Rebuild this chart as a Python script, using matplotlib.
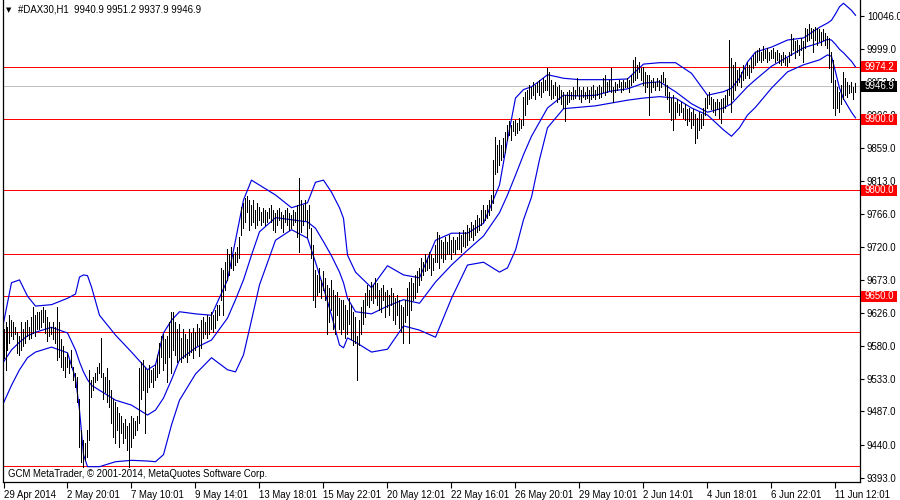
import matplotlib
matplotlib.use("Agg")
import matplotlib.pyplot as plt
from matplotlib.patches import Rectangle

# ---------------- data ----------------
# hourly bars, high / low
highs = [
    9603, 9614, 9607, 9624, 9617, 9613, 9607, 9599, 9593, 9614,
    9603, 9613, 9617, 9607, 9620, 9634, 9624, 9627, 9628, 9631,
    9634, 9631, 9621, 9614, 9607, 9613, 9607, 9634, 9613, 9589,
    9579, 9564, 9570, 9560, 9574, 9550, 9542, 9536, 9504, 9461,
    9447, 9443, 9461, 9546, 9532, 9536, 9542, 9550, 9556, 9591,
    9542, 9536, 9549, 9532, 9518, 9504, 9500, 9494, 9485, 9480,
    9471, 9476, 9466, 9471, 9480, 9478, 9473, 9480, 9549, 9557,
    9560, 9550, 9546, 9553, 9546, 9549, 9553, 9567, 9584, 9593,
    9596, 9589, 9593, 9613, 9627, 9628, 9614, 9603, 9610, 9591,
    9603, 9596, 9589, 9603, 9598, 9605, 9600, 9610, 9605, 9617,
    9620, 9614, 9624, 9620, 9628, 9624, 9631, 9638, 9638, 9690,
    9687, 9699, 9716, 9709, 9719, 9709, 9713, 9719, 9733, 9776,
    9782, 9789, 9791, 9786, 9779, 9786, 9772, 9782, 9776, 9769,
    9775, 9772, 9769, 9775, 9779, 9772, 9768, 9772, 9775, 9769,
    9765, 9772, 9775, 9768, 9765, 9772, 9769, 9779, 9817, 9786,
    9779, 9786, 9772, 9779, 9747, 9723, 9687, 9680, 9690, 9673,
    9685, 9676, 9666, 9662, 9673, 9659, 9652, 9656, 9648, 9645,
    9645, 9638, 9631, 9648, 9638, 9628, 9620, 9593, 9617, 9635,
    9645, 9655, 9666, 9659, 9670, 9666, 9676, 9669, 9659, 9662,
    9666, 9656, 9659, 9652, 9662, 9655, 9648, 9652, 9645, 9638,
    9635, 9645, 9662, 9670, 9676, 9669, 9680, 9685, 9690, 9704,
    9699, 9709, 9704, 9713, 9709, 9704, 9723, 9741, 9737, 9730,
    9726, 9733, 9727, 9737, 9730, 9734, 9730, 9733, 9741, 9736,
    9744, 9740, 9751, 9747, 9755, 9751, 9758, 9765, 9761, 9772,
    9779, 9772, 9779, 9786, 9793, 9843, 9875, 9864, 9871, 9864,
    9874, 9882, 9892, 9897, 9892, 9897, 9899, 9895, 9902, 9899,
    9932, 9939, 9942, 9949, 9945, 9952, 9949, 9953, 9956, 9952,
    9959, 9956, 9973, 9967, 9956, 9949, 9953, 9945, 9949, 9942,
    9939, 9935, 9939, 9942, 9939, 9945, 9942, 9959, 9946, 9942,
    9945, 9939, 9946, 9942, 9945, 9949, 9942, 9946, 9949, 9945,
    9959, 9963, 9953, 9956, 9973, 9945, 9953, 9950, 9956, 9952,
    9956, 9953, 9959, 9956, 9963, 9984, 9988, 9977, 9981, 9973,
    9974, 9967, 9963, 9963, 9956, 9959, 9953, 9959, 9956, 9962,
    9967, 9959, 9949, 9939, 9930, 9935, 9925, 9928, 9921, 9925,
    9916, 9921, 9914, 9916, 9911, 9914, 9907, 9902, 9911, 9907,
    9916, 9930, 9935, 9939, 9932, 9928, 9925, 9928, 9925, 9928,
    9930, 9935, 9942, 10012, 9987, 9977, 9981, 9970, 9973, 9967,
    9977, 9973, 9981, 9977, 9987, 9991, 9995, 9998, 10001, 9995,
    10003, 9998, 10001, 9995, 9998, 10001, 9995, 9998, 9994, 9991,
    9995, 9991, 9987, 9995, 10020, 10015, 10010, 10012, 10005, 10015,
    10010, 10029, 10027, 10034, 10029, 10027, 10031, 10029, 10027, 10024,
    10027, 10022, 10018, 10015, 9995, 9984, 9956, 9945, 9939, 9949,
    9967, 9959, 9953, 9949, 9952, 9945, 9951.2,
]
lows = [
    9563, 9546, 9574, 9584, 9593, 9589, 9596, 9570, 9567, 9574,
    9579, 9584, 9593, 9589, 9591, 9598, 9593, 9603, 9603, 9607,
    9613, 9598, 9586, 9593, 9596, 9589, 9584, 9560, 9564, 9550,
    9546, 9536, 9550, 9542, 9550, 9532, 9522, 9500, 9437, 9415,
    9409, 9419, 9423, 9447, 9508, 9518, 9528, 9532, 9542, 9536,
    9504, 9514, 9500, 9494, 9471, 9451, 9443, 9461, 9437, 9457,
    9443, 9450, 9433, 9409, 9437, 9450, 9454, 9461, 9471, 9504,
    9518, 9457, 9514, 9522, 9528, 9522, 9532, 9536, 9542, 9564,
    9546, 9556, 9528, 9564, 9541, 9574, 9567, 9557, 9560, 9557,
    9563, 9564, 9557, 9567, 9571, 9563, 9574, 9581, 9566, 9577,
    9591, 9596, 9591, 9596, 9603, 9600, 9605, 9617, 9624, 9645,
    9624, 9659, 9673, 9680, 9690, 9687, 9694, 9699, 9704, 9737,
    9747, 9755, 9769, 9744, 9751, 9755, 9747, 9751, 9758, 9751,
    9755, 9751, 9755, 9761, 9755, 9744, 9741, 9751, 9758, 9747,
    9741, 9755, 9751, 9744, 9747, 9751, 9755, 9733, 9712, 9741,
    9751, 9758, 9733, 9747, 9704, 9645, 9634, 9652, 9656, 9648,
    9659, 9645, 9596, 9614, 9631, 9603, 9596, 9624, 9603, 9596,
    9603, 9591, 9596, 9610, 9589, 9581, 9584, 9532, 9581, 9596,
    9610, 9620, 9638, 9634, 9645, 9641, 9648, 9638, 9631, 9628,
    9645, 9620, 9634, 9624, 9638, 9617, 9610, 9624, 9605, 9600,
    9584, 9614, 9624, 9584, 9631, 9645, 9648, 9656, 9666, 9673,
    9680, 9685, 9687, 9690, 9680, 9687, 9699, 9699, 9690, 9704,
    9699, 9702, 9709, 9709, 9702, 9713, 9709, 9716, 9716, 9713,
    9721, 9719, 9723, 9730, 9733, 9730, 9737, 9741, 9744, 9751,
    9755, 9758, 9761, 9765, 9772, 9782, 9822, 9826, 9836, 9843,
    9846, 9854, 9871, 9878, 9871, 9883, 9878, 9881, 9885, 9888,
    9892, 9906, 9921, 9928, 9930, 9935, 9928, 9939, 9935, 9932,
    9939, 9942, 9942, 9935, 9928, 9930, 9935, 9925, 9928, 9921,
    9916, 9897, 9921, 9925, 9928, 9928, 9930, 9935, 9928, 9925,
    9932, 9928, 9930, 9925, 9928, 9932, 9928, 9935, 9930, 9932,
    9939, 9935, 9939, 9942, 9939, 9925, 9939, 9942, 9945, 9939,
    9942, 9945, 9945, 9939, 9949, 9953, 9956, 9959, 9967, 9956,
    9949, 9939, 9945, 9906, 9939, 9945, 9942, 9947, 9942, 9945,
    9953, 9935, 9928, 9911, 9899, 9885, 9902, 9911, 9906, 9911,
    9902, 9899, 9892, 9897, 9888, 9892, 9867, 9874, 9885, 9888,
    9892, 9906, 9916, 9921, 9914, 9911, 9906, 9914, 9902, 9895,
    9911, 9916, 9921, 9935, 9911, 9928, 9942, 9949, 9953, 9945,
    9956, 9959, 9963, 9959, 9967, 9973, 9977, 9981, 9984, 9981,
    9984, 9987, 9981, 9984, 9987, 9987, 9981, 9984, 9980, 9977,
    9981, 9977, 9976, 9981, 9991, 9998, 9987, 9995, 9991, 9998,
    9981, 10001, 10010, 10012, 10015, 9995, 10012, 10005, 10010, 10005,
    10012, 10005, 10001, 9973, 9953, 9916, 9906, 9916, 9911, 9921,
    9928, 9935, 9932, 9937, 9939, 9928, 9937.9,
]

# Bollinger bands, sampled at these bar numbers
band_bar = [0, 4, 8, 12, 16, 24, 32, 36, 38, 40, 42, 44, 48, 56, 64, 72, 76, 80,
            84, 88, 96, 104, 112, 116, 120, 124, 128, 136, 144, 152, 156, 160,
            164, 168, 170, 172, 176, 184, 192, 200, 208, 216, 224, 232, 240, 248,
            252, 256, 260, 264, 268, 272, 280, 288, 296, 304, 312, 320, 328, 336,
            344, 352, 360, 364, 368, 372, 376, 384, 392, 400, 408, 412, 414, 416,
            418, 420, 424, 426]
upper = [9612, 9669, 9673, 9650, 9636, 9638, 9647, 9653, 9677, 9680, 9679, 9663,
         9623, 9595, 9571, 9546, 9553, 9598, 9616, 9628, 9625, 9623, 9673, 9729,
         9786, 9814, 9807, 9793, 9775, 9782, 9811, 9814, 9797, 9775, 9760, 9708,
         9684, 9662, 9693, 9680, 9676, 9729, 9739, 9739, 9753, 9807, 9871, 9930,
         9942, 9946, 9954, 9963, 9958, 9956, 9956, 9956, 9957, 9978, 9980, 9980,
         9965, 9934, 9939, 9944, 9958, 9981, 9995, 10002, 10012, 10015, 10030,
         10036, 10040, 10049, 10059, 10064, 10054, 10047]
middle = [9557, 9574, 9585, 9594, 9599, 9606, 9598, 9574, 9557, 9543, 9532, 9524,
          9517, 9503, 9496, 9482, 9489, 9506, 9532, 9560, 9577, 9588, 9619, 9645,
          9673, 9708, 9741, 9761, 9758, 9755, 9746, 9727, 9707, 9684, 9669, 9647,
          9628, 9625, 9636, 9645, 9640, 9670, 9694, 9715, 9735, 9768, 9793, 9821,
          9850, 9876, 9896, 9916, 9934, 9933, 9934, 9940, 9943, 9951, 9953, 9939,
          9922, 9910, 9916, 9922, 9934, 9946, 9956, 9975, 9988, 10001, 10008,
          10013, 10012, 10006, 9999, 9994, 9982, 9974]
lower = [9499, 9524, 9546, 9563, 9571, 9578, 9570, 9534, 9489, 9426, 9409, 9409,
         9409, 9416, 9418, 9417, 9416, 9426, 9468, 9503, 9540, 9563, 9546, 9543,
         9567, 9616, 9666, 9729, 9744, 9732, 9698, 9662, 9623, 9581, 9577, 9591,
         9585, 9571, 9575, 9608, 9602, 9592, 9647, 9694, 9698, 9684, 9690, 9715,
         9758, 9790, 9843, 9888, 9915, 9917, 9919, 9923, 9927, 9930, 9932, 9930,
         9916, 9906, 9885, 9876, 9888, 9906, 9917, 9944, 9967, 9977, 9984, 9991,
         9989, 9967, 9944, 9929, 9910, 9902]

# horizontal lines
red_levels = [9974.2, 9900.0, 9800.0, 9710.0, 9650.0, 9600.0, 9410.0]
boxed_levels = [9974.2, 9900.0, 9800.0, 9650.0]
last_price = 9946.9

price_ticks = [10046, 9999, 9953, 9906, 9859, 9813, 9766, 9720, 9673, 9626,
               9580, 9533, 9487, 9440, 9393]
date_bars = [0, 32, 64, 96, 128, 160, 192, 224, 256, 288, 320, 352, 384, 416]
date_labels = ["29 Apr 2014", "2 May 20:01", "7 May 10:01", "9 May 14:01",
               "13 May 18:01", "15 May 22:01", "20 May 12:01", "22 May 16:01",
               "26 May 20:01", "29 May 10:01", "2 Jun 14:01", "4 Jun 18:01",
               "6 Jun 22:01", "11 Jun 12:01"]

# ---------------- figure ----------------
FONT = ["Liberation Sans", "DejaVu Sans"]
plt.rcParams["font.family"] = FONT
FS = 6.9
PX = 0.72  # one pixel in points at 100 dpi

fig = plt.figure(figsize=(9, 5), dpi=100)
ax = fig.add_axes([3 / 900, 18 / 500, 857 / 900, 482 / 500])

ax.set_xlim(-0.25, 428.25)
ax.set_ylim(9387.35, 10068.6)

bars = list(range(len(highs)))
ax.vlines(bars, lows, highs, color="black", linewidth=PX, antialiased=False, zorder=3)

ax.plot(band_bar, upper, color="#0000E0", linewidth=0.85, zorder=2)
ax.plot(band_bar, middle, color="#0000E0", linewidth=0.85, zorder=2)
ax.plot(band_bar, lower, color="#0000E0", linewidth=0.85, zorder=2)

for lv in red_levels:
    ax.axhline(lv, color="#FF0000", linewidth=PX, antialiased=False, zorder=1)
ax.axhline(last_price, color="#C0C0C0", linewidth=PX, antialiased=False, zorder=0)

# axes look
for s in ["left", "right", "bottom"]:
    ax.spines[s].set_linewidth(0.9)
ax.spines["top"].set_visible(False)

ax.yaxis.tick_right()
ax.set_yticks(price_ticks)
ax.set_yticklabels(["%.1f" % t for t in price_ticks], fontsize=FS)
ax.tick_params(axis="y", length=3, width=0.8, pad=2)

ax.set_xticks(date_bars)
ax.set_xticklabels(date_labels, fontsize=FS)
ax.tick_params(axis="x", length=4, width=0.8, pad=2)
for lab in ax.get_xticklabels():
    lab.set_horizontalalignment("left")

# price boxes on the right scale
ytr = ax.get_yaxis_transform()
box_h = 11 * 1.4134
for lv in boxed_levels:
    ax.add_patch(Rectangle((1.0008, lv - box_h / 2), 0.0425, box_h, transform=ytr,
                           facecolor="#FF0000", edgecolor="none", clip_on=False, zorder=5))
    ax.text(1.0225, lv, "%.1f" % lv, transform=ytr, color="white", fontsize=FS,
            ha="center", va="center", clip_on=False, zorder=6)
ax.add_patch(Rectangle((1.0008, last_price - box_h / 2), 0.0425, box_h, transform=ytr,
                       facecolor="black", edgecolor="none", clip_on=False, zorder=5))
ax.text(1.0225, last_price, "%.1f" % last_price, transform=ytr, color="white",
        fontsize=FS, ha="center", va="center", clip_on=False, zorder=6)

# header and copyright
fig.text(6 / 900, 1 - 10 / 500, "\u25bc", fontsize=5, va="center", ha="left",
         family=["DejaVu Sans"])
fig.text(18 / 900, 1 - 10 / 500, "#DAX30,H1  9940.9 9951.2 9937.9 9946.9",
         fontsize=FS, va="center", ha="left")
fig.text(8 / 900, 1 - 474 / 500, "GCM MetaTrader, \u00a9 2001-2014, MetaQuotes Software Corp.",
         fontsize=FS, va="center", ha="left")

fig.savefig("out.png", dpi=100)
